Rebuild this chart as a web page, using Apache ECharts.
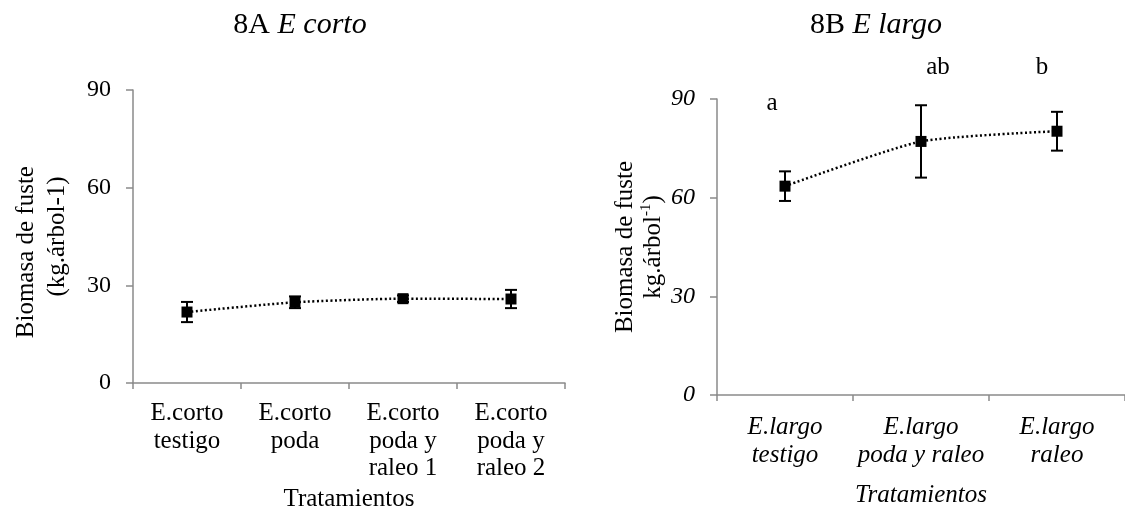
<!DOCTYPE html>
<html>
<head>
<meta charset="utf-8">
<script src="https://cdn.jsdelivr.net/npm/echarts@6/dist/echarts.min.js"></script>
<style>html,body{margin:0;padding:0;background:#fff}#c{width:1125px;height:511px}</style>
</head>
<body>
<div id="c"></div>
<script>
// ---- data ----
const catsA = ['E.corto\ntestigo', 'E.corto\npoda', 'E.corto\npoda y\nraleo 1', 'E.corto\npoda y\nraleo 2'];
const valsA = [21.8, 24.8, 25.9, 25.8];
const errsA = [3.1, 1.8, 1.0, 2.8];

const catsB = ['E.largo\ntestigo', 'E.largo\npoda y raleo', 'E.largo\nraleo'];
const valsB = [63.5, 77.1, 80.2];
const errsB = [4.5, 11.0, 5.9];
const lettersB = ['a', 'ab', 'b'];
const letterValsB = [88.8, 99.7, 99.7];

const yTicks = [0, 30, 60, 90];

// ---- chart ----
const FONT = 'Liberation Serif';
const AXC = '#8a8a8a';
const chart = echarts.init(document.getElementById('c'), null, {renderer: 'canvas'});

function errRender(params, api) {
  const x = api.value(0), v = api.value(1), e = api.value(2);
  const t = api.coord([x, v + e]);
  const b = api.coord([x, v - e]);
  const hw = 6;
  const st = {stroke: '#000', lineWidth: 2};
  return {type: 'group', children: [
    {type: 'line', shape: {x1: t[0], y1: t[1], x2: b[0], y2: b[1]}, style: st},
    {type: 'line', shape: {x1: t[0] - hw, y1: t[1], x2: t[0] + hw, y2: t[1]}, style: st},
    {type: 'line', shape: {x1: b[0] - hw, y1: b[1], x2: b[0] + hw, y2: b[1]}, style: st}
  ]};
}

function yAxisCfg(gi, italic, name, nameGap, lh) {
  return {
    type: 'value', gridIndex: gi, min: yTicks[0], max: yTicks[yTicks.length - 1], interval: 30,
    splitLine: {show: false},
    axisLine: {show: true, lineStyle: {color: AXC, width: 1.5}},
    axisTick: {show: true, length: 7, lineStyle: {color: AXC, width: 1.5}},
    axisLabel: {fontFamily: FONT, fontSize: 24, color: '#000', fontStyle: italic ? 'italic' : 'normal', margin: 22},
    name: name, nameLocation: 'middle', nameRotate: 90, nameGap: nameGap,
    nameTextStyle: {fontFamily: FONT, fontSize: 25, color: '#000', lineHeight: lh, align: 'center',
      rich: {a: {fontFamily: FONT, fontSize: 25, color: '#000', lineHeight: lh},
             sup: {fontFamily: FONT, fontSize: 15, color: '#000', verticalAlign: 'top', lineHeight: lh}}}
  };
}

function xAxisCfg(gi, cats, italic, margin, nameGap) {
  return {
    type: 'category', gridIndex: gi, data: cats, boundaryGap: true,
    axisLine: {show: true, lineStyle: {color: AXC, width: 1.5}},
    axisTick: {show: true, length: 6, alignWithLabel: false, lineStyle: {color: AXC, width: 1.5}},
    axisLabel: {fontFamily: FONT, fontSize: 25, color: '#000', lineHeight: 27.5, interval: 0, margin: margin,
      fontStyle: italic ? 'italic' : 'normal'},
    name: 'Tratamientos', nameLocation: 'middle', nameGap: nameGap,
    nameTextStyle: {fontFamily: FONT, fontSize: 25, color: '#000', fontStyle: italic ? 'italic' : 'normal'}
  };
}

const titleRich = {
  n: {fontFamily: FONT, fontSize: 30, color: '#000', fontWeight: 'normal'},
  i: {fontFamily: FONT, fontSize: 30, fontStyle: 'italic', fontWeight: 'normal', color: '#000'}
};

const option = {
  animation: false,
  backgroundColor: '#fff',
  title: [
    {text: '{n|8A }{i|E corto}', left: 295, top: 5, textAlign: 'center',
     textStyle: {fontWeight: 'normal', rich: titleRich}},
    {text: '{n|8B }{i|E largo}', left: 871, top: 5, textAlign: 'center',
     textStyle: {fontWeight: 'normal', rich: titleRich}}
  ],
  grid: [
    {left: 133, top: 90, width: 432, height: 293, containLabel: false, outerBoundsMode: 'none'},
    {left: 717, top: 99, width: 408, height: 296, containLabel: false, outerBoundsMode: 'none'}
  ],
  xAxis: [
    xAxisCfg(0, catsA, false, 17, 101),
    xAxisCfg(1, catsB, true, 19, 88)
  ],
  yAxis: [
    yAxisCfg(0, false, 'Biomasa de fuste     \n(kg.árbol-1)', 60, 31),
    yAxisCfg(1, true, '{a|Biomasa de fuste}\n{a|kg.árbol}{sup|-1}{a|)}', 50, 28)
  ],
  series: [
    {type: 'line', xAxisIndex: 0, yAxisIndex: 0, data: valsA, smooth: 0.2,
     symbol: 'rect', symbolSize: 11, itemStyle: {color: '#000'},
     lineStyle: {color: '#000', width: 2.5, type: [2, 2.5]}, z: 3},
    {type: 'custom', xAxisIndex: 0, yAxisIndex: 0, renderItem: errRender,
     data: valsA.map((v, i) => [i, v, errsA[i]]), z: 2},
    {type: 'line', xAxisIndex: 1, yAxisIndex: 1, data: valsB, smooth: 0.2,
     symbol: 'rect', symbolSize: 11, itemStyle: {color: '#000'},
     lineStyle: {color: '#000', width: 2.5, type: [2, 2.5]}, z: 3},
    {type: 'custom', xAxisIndex: 1, yAxisIndex: 1, renderItem: errRender,
     data: valsB.map((v, i) => [i, v, errsB[i]]), z: 2},
    {type: 'scatter', xAxisIndex: 1, yAxisIndex: 1, clip: false, symbolSize: 1,
     itemStyle: {color: 'rgba(255,255,255,0)', opacity: 1},
     emphasis: {disabled: true},
     data: letterValsB.map((v, i) => ({value: [i, v], label: {formatter: lettersB[i], offset: [[-13, 0], [17, 0], [-15, 0]][i]}})),
     label: {show: true, position: 'inside', fontFamily: FONT, fontSize: 25, color: '#000', opacity: 1}, z: 4}
  ]
};
chart.setOption(option);
</script>
</body>
</html>
